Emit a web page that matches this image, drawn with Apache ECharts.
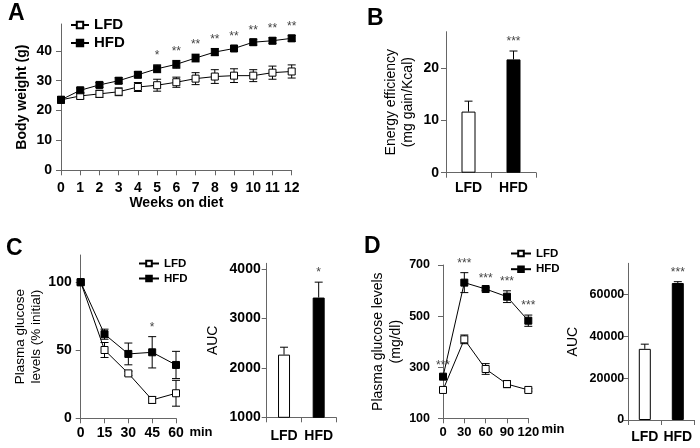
<!DOCTYPE html>
<html><head><meta charset="utf-8">
<script src="https://cdn.jsdelivr.net/npm/echarts@6/dist/echarts.min.js"></script>
<style>html,body{margin:0;padding:0;background:#fff}#c{width:700px;height:448px}</style>
</head><body><div id="c"></div>
<script>
// ---- Panel A: body weight ----
const weeks = [0,1,2,3,4,5,6,7,8,9,10,11,12];
const lfdA = [23.6,24.9,25.6,26.3,27.9,28.5,29.5,30.7,31.4,31.7,31.7,32.7,33.1];
const lfdAerr = [0.8,1.0,1.2,1.3,1.5,2.0,1.7,2.0,2.3,2.3,2.0,2.2,2.2];
const hfdA = [23.6,26.8,28.6,30.0,32.0,34.0,35.5,37.6,39.6,40.8,42.9,43.4,44.2];
const hfdAerr = [0.8,0.8,0.8,1.0,1.0,1.3,1.3,1.3,1.2,1.0,1.0,1.0,1.0];
const starsA = ['','','','','','*','**','**','**','**','**','**','**'];
const ticksA = [0,10,20,30,40];
// ---- Panel B: energy efficiency ----
const groups = ['LFD','HFD'];
const effB = [11.7,21.7];
const effBerr = [2.0,1.6];
const starsB = ['','***'];
const ticksB = [0,10,20];
// ---- Panel C: ITT ----
const timeC = [0,15,30,45,60];
const lfdC = [100,50.2,33,13.5,18.4];
const lfdCerr = [0,5.5,1.5,2.5,9.5];
const hfdC = [100,61.8,47.3,48.5,39.2];
const hfdCerr = [0,3.7,8,11.5,10];
const starsC = ['','','','*',''];
const ticksC = [0,50,100];
const aucC = [2270,3426];
const aucCerr = [150,312];
const starsCauc = ['','*'];
const ticksCauc = [1000,2000,3000,4000];
// ---- Panel D: GTT ----
const timeD = [0,30,60,90,120];
const lfdD = [211,409,293,234,211];
const lfdDerr = [8,17,21,14,5];
const hfdD = [263,631,606,576,482];
const hfdDerr = [8,39,5,23,22];
const starsD = ['***','***','***','***','***'];
const ticksD = [100,300,500,700];
const aucD = [34050,65560];
const aucDerr = [2250,640];
const starsDauc = ['','***'];
const ticksDauc = [0,20000,40000,60000];

const FONT = '"Liberation Sans", Arial, sans-serif';
const AX = '#666';

function pairs(xs, ys){ return xs.map((x,i)=>[x, ys[i]]); }
function triples(xs, ys, es){ return xs.map((x,i)=>[x, ys[i], es[i]]); }

function errSeries(gi, xs, ys, es, upperOnly){
  return {
    type:'custom', xAxisIndex:gi, yAxisIndex:gi, z:1, silent:true, clip:false,
    data: triples(xs, ys, es),
    renderItem(params, api){
      const x=api.value(0), m=api.value(1), s=api.value(2);
      if(!s) return null;
      const t=api.coord([x, m+s]);
      const b=api.coord([x, upperOnly? m : m-s]);
      const w=4, st={stroke:'#000', lineWidth:1};
      const ch=[{type:'line', shape:{x1:t[0],y1:t[1],x2:b[0],y2:b[1]}, style:st},
                {type:'line', shape:{x1:t[0]-w,y1:t[1],x2:t[0]+w,y2:t[1]}, style:st}];
      if(!upperOnly) ch.push({type:'line', shape:{x1:b[0]-w,y1:b[1],x2:b[0]+w,y2:b[1]}, style:st});
      return {type:'group', children:ch};
    }
  };
}
function starSeries(gi, xs, tops, labels, size){
  return {
    type:'custom', xAxisIndex:gi, yAxisIndex:gi, z:3, silent:true, clip:false,
    data: pairs(xs, tops),
    renderItem(params, api){
      const txt = labels[params.dataIndex];
      if(!txt) return null;
      const c=api.coord([api.value(0), api.value(1)]);
      return {type:'text', x:c[0], y:c[1]-3, style:{text:txt, align:'center', verticalAlign:'bottom', font:'normal '+size+'px '+FONT, fill:'#444'}};
    }
  };
}
function upper(ys, es){ return ys.map((v,i)=>v+es[i]); }
function maxUpper(a, ae, b, be){ return a.map((v,i)=>Math.max(v+ae[i], b[i]+be[i])); }

function lineSeries(gi, name, xs, ys, filled){
  return {
    type:'line', name, xAxisIndex:gi, yAxisIndex:gi, z:2,
    data: pairs(xs, ys), symbol:'rect', symbolSize:7, showSymbol:true,
    lineStyle:{color:'#000', width:1}, color:'#000',
    itemStyle: filled ? {color:'#000', borderColor:'#000', borderWidth:1} : {color:'#fff', borderColor:'#000', borderWidth:1},
    emphasis:{disabled:true}, animation:false
  };
}
function barSeries(gi, vals, bw){
  return {
    type:'bar', xAxisIndex:gi, yAxisIndex:gi, barWidth:bw, z:2,
    data: vals.map((v,i)=>({value:v, itemStyle: i===0 ? {color:'#fff', borderColor:'#000', borderWidth:1} : {color:'#000', borderColor:'#000', borderWidth:1}})),
    emphasis:{disabled:true}, animation:false
  };
}

const plain = v => String(v);
function axisCommon(){
  return {
    axisLine:{show:true, onZero:false, lineStyle:{color:AX, width:1}},
    axisTick:{show:true, length:5, lineStyle:{color:AX}},
    splitLine:{show:false}
  };
}
function valX(gi, min, max, interval, fs, margin){
  return Object.assign(axisCommon(), {
    type:'value', gridIndex:gi, min, max, interval,
    axisLabel:{fontFamily:FONT, fontWeight:'bold', fontSize:fs, color:'#000', margin, formatter:plain}
  });
}
function catX(gi, fs, margin){
  return Object.assign(axisCommon(), {
    type:'category', gridIndex:gi, data:groups, boundaryGap:true,
    axisLabel:{fontFamily:FONT, fontWeight:'bold', fontSize:fs, color:'#000', margin, interval:0}
  });
}
function valY(gi, min, max, ticks, fs, margin, name, nameFs, nameBold, nameGap, lh){
  const a = axisCommon();
  a.axisTick.customValues = ticks;
  return Object.assign(a, {
    type:'value', gridIndex:gi, min, max,
    axisLabel:{fontFamily:FONT, fontWeight:'bold', fontSize:fs, color:'#000', margin, customValues:ticks, formatter:plain},
    name, nameLocation:'middle', nameGap,
    nameTextStyle:{fontFamily:FONT, fontSize:nameFs, fontWeight: nameBold?'bold':'normal', color:'#000', lineHeight:lh}
  });
}

const option = {
  animation:false,
  backgroundColor:'#fff',
  grid:[
    {left:61, top:24, width:230.7, height:146.3},
    {left:446, top:31.7, width:90, height:141},
    {left:80.7, top:255, width:95.3, height:163.3},
    {left:266.7, top:263.3, width:69.3, height:154},
    {left:443, top:265, width:85.3, height:153.3},
    {left:628.3, top:263.3, width:66, height:156.7}
  ],
  xAxis:[
    Object.assign(valX(0,0,12,1,14,11), {name:'Weeks on diet', nameLocation:'middle', nameGap:26,
      nameTextStyle:{fontFamily:FONT, fontWeight:'bold', fontSize:14, color:'#000'}}),
    catX(1,14,8),
    valX(2,0,60,15,14,8),
    catX(3,14,12),
    valX(4,0,120,30,13,8),
    catX(5,14,10)
  ],
  yAxis:[
    valY(0,0,49,ticksA,14,9,'Body weight (g)',14,true,31,16),
    valY(1,0,27,ticksB,14,7,'Energy efficiency\n(mg gain/Kcal)',14,false,29,17),
    valY(2,0,120,ticksC,14,9,'Plasma glucose\nlevels (% initial)',13.5,false,31,16),
    valY(3,1000,4120,ticksCauc,14,6,'AUC',14,false,46,16),
    valY(4,100,700,ticksD,12.5,13,'Plasma glucose levels\n(mg/dl)',14,false,32,18),
    valY(5,0,75000,ticksDauc,12.5,4,'AUC',14,false,47,16)
  ],
  legend:[
    {orient:'vertical', left:70, top:17, padding:0, itemWidth:18, itemHeight:8, itemGap:2,
      data:['LFD','HFD'], selectedMode:false,
      textStyle:{fontFamily:FONT, fontWeight:'bold', fontSize:15, color:'#000', lineHeight:16}},
    {orient:'vertical', left:138, top:257, padding:0, itemWidth:20, itemHeight:7, itemGap:2,
      data:['LFD','HFD'], selectedMode:false,
      textStyle:{fontFamily:FONT, fontWeight:'bold', fontSize:11.5, color:'#000', lineHeight:13}},
    {orient:'vertical', left:510, top:247, padding:0, itemWidth:20, itemHeight:7, itemGap:2.7,
      data:['LFD','HFD'], selectedMode:false,
      textStyle:{fontFamily:FONT, fontWeight:'bold', fontSize:11.5, color:'#000', lineHeight:13}}
  ],
  graphic:[
    {type:'text', left:8, top:2, style:{text:'A', font:'bold 23px '+FONT, fill:'#000'}},
    {type:'text', left:367, top:7, style:{text:'B', font:'bold 23px '+FONT, fill:'#000'}},
    {type:'text', left:6, top:237, style:{text:'C', font:'bold 23px '+FONT, fill:'#000'}},
    {type:'text', left:364, top:235, style:{text:'D', font:'bold 23px '+FONT, fill:'#000'}},
    {type:'text', x:201, y:432, style:{text:'min', font:'bold 13px '+FONT, fill:'#000', align:'center', verticalAlign:'middle'}},
    {type:'text', x:553, y:429, style:{text:'min', font:'bold 13px '+FONT, fill:'#000', align:'center', verticalAlign:'middle'}}
  ],
  series:[
    // A
    errSeries(0, weeks, lfdA, lfdAerr, false),
    errSeries(0, weeks, hfdA, hfdAerr, false),
    lineSeries(0, 'LFD', weeks, lfdA, false),
    lineSeries(0, 'HFD', weeks, hfdA, true),
    starSeries(0, weeks, maxUpper(lfdA,lfdAerr,hfdA,hfdAerr), starsA, 12),
    // B
    barSeries(1, effB, 14),
    errSeries(1, [0,1], effB, effBerr, true),
    starSeries(1, [0,1], upper(effB,effBerr), starsB, 12),
    // C
    errSeries(2, timeC, lfdC, lfdCerr, false),
    errSeries(2, timeC, hfdC, hfdCerr, false),
    lineSeries(2, 'LFD', timeC, lfdC, false),
    lineSeries(2, 'HFD', timeC, hfdC, true),
    starSeries(2, timeC, maxUpper(lfdC,lfdCerr,hfdC,hfdCerr), starsC, 12),
    barSeries(3, aucC, 12),
    errSeries(3, [0,1], aucC, aucCerr, true),
    starSeries(3, [0,1], upper(aucC,aucCerr), starsCauc, 12),
    // D
    errSeries(4, timeD, lfdD, lfdDerr, false),
    errSeries(4, timeD, hfdD, hfdDerr, false),
    lineSeries(4, 'LFD', timeD, lfdD, false),
    lineSeries(4, 'HFD', timeD, hfdD, true),
    starSeries(4, timeD, maxUpper(lfdD,lfdDerr,hfdD,hfdDerr), starsD, 12),
    barSeries(5, aucD, 12),
    errSeries(5, [0,1], aucD, aucDerr, true),
    starSeries(5, [0,1], upper(aucD,aucDerr), starsDauc, 12)
  ]
};
const chart = echarts.init(document.getElementById('c'), null, {renderer:'canvas'});
chart.setOption(option);
</script></body></html>
